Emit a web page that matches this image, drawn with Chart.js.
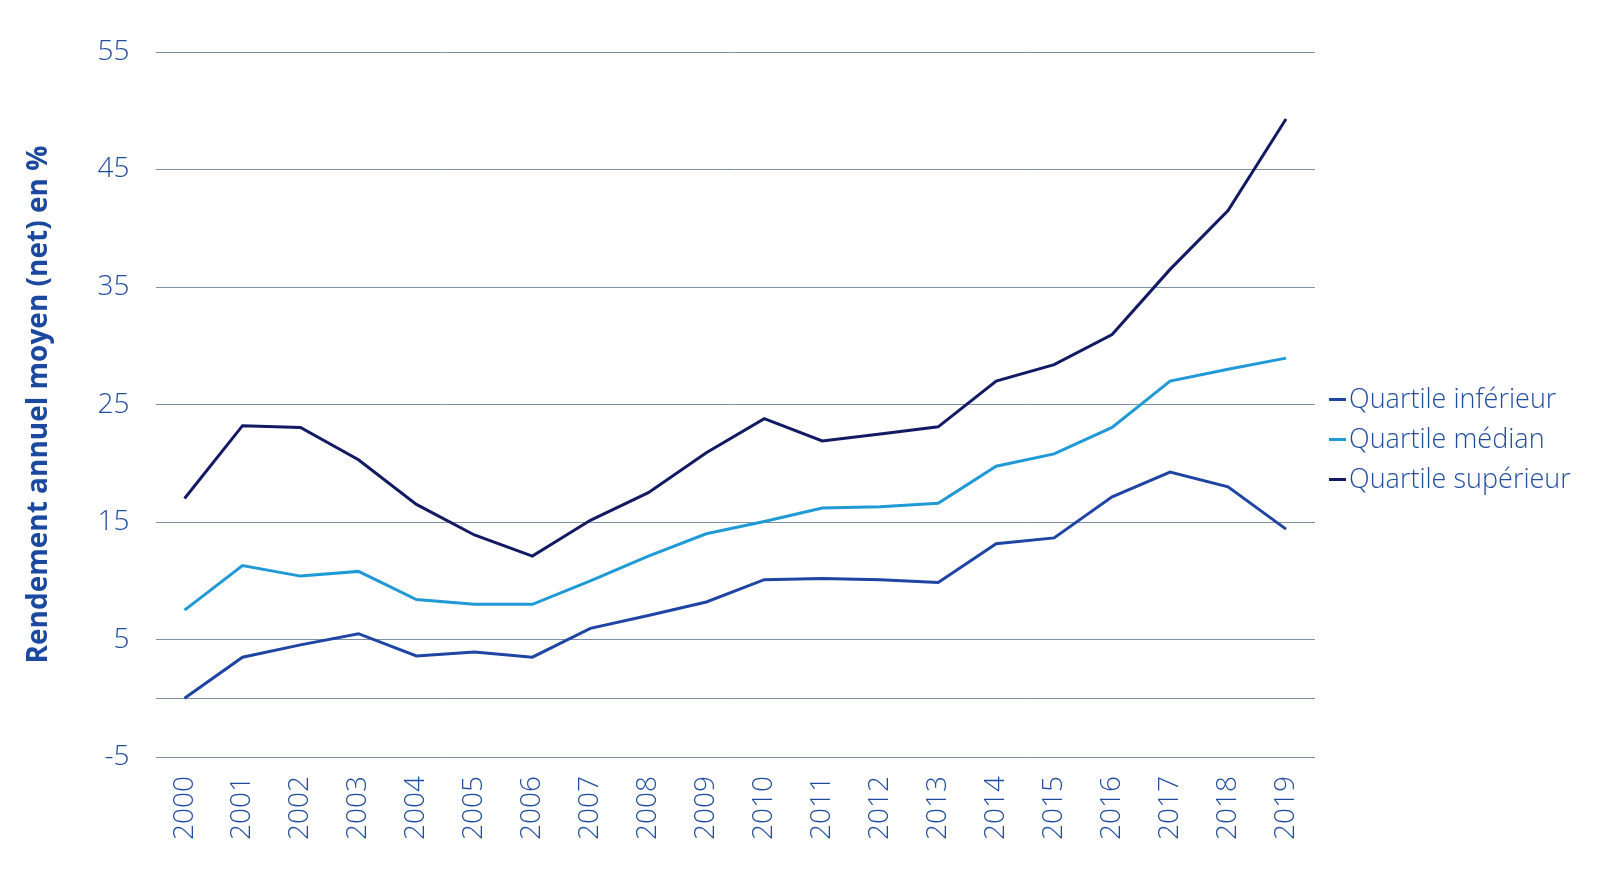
<!DOCTYPE html>
<html lang="fr">
<head>
  <meta charset="UTF-8">
  <title>Rendement annuel moyen par quartile</title>
  <script src="https://cdn.jsdelivr.net/npm/chart.js"></script>
  <style>
    html, body { margin: 0; padding: 0; background: #fff; }
    #wrap { position: relative; width: 1600px; height: 879px; }
    #legende {
      position: absolute; left: 1329px; top: 378px; white-space: nowrap;
      font-family: "Open Sans", sans-serif; font-weight: 300;
      font-size: 27px; color: #1f4d9e; line-height: 40px;
    }
    #legende span.trait {
      display: inline-block; width: 17px; height: 3px;
      vertical-align: middle; margin-right: 3px; position: relative; top: -1px;
    }
  </style>
</head>
<body>
  <div id="wrap">
    <canvas id="grafica" width="1600" height="879"></canvas>
    <div id="legende"></div>
  </div>

  <script>
    const annees = ['2000', '2001', '2002', '2003', '2004', '2005', '2006', '2007', '2008', '2009',
                    '2010', '2011', '2012', '2013', '2014', '2015', '2016', '2017', '2018', '2019'];
    const inferieur = [0, 3.5, 4.55, 5.5, 3.6, 3.95, 3.5, 5.95, 7.05, 8.2,
                       10.1, 10.2, 10.1, 9.85, 13.15, 13.65, 17.15, 19.25, 18.0, 14.4];
    const median = [7.5, 11.3, 10.4, 10.8, 8.4, 8.0, 8.0, 10.0, 12.1, 14.0,
                    15.05, 16.2, 16.3, 16.6, 19.75, 20.8, 23.05, 27.0, 28.0, 28.95];
    const superieur = [17.0, 23.2, 23.05, 20.3, 16.5, 13.9, 12.1, 15.15, 17.5, 20.9,
                       23.8, 21.9, 22.5, 23.1, 27.0, 28.4, 30.95, 36.5, 41.5, 49.3];
    const graduations = [-5, 0, 5, 15, 25, 35, 45, 55];

    const series = [
      { label: 'Quartile inférieur', data: inferieur, color: '#1e45a3' },
      { label: 'Quartile médian', data: median, color: '#1f9ad6' },
      { label: 'Quartile supérieur', data: superieur, color: '#111a63' }
    ];

    const police = '"Open Sans", sans-serif';
    const bleuTexte = '#1f4d9e';

    const ctx = document.getElementById('grafica').getContext('2d');
    const grafica = new Chart(ctx, {
      type: 'line',
      data: {
        labels: annees,
        datasets: series.map(s => ({
          label: s.label,
          data: s.data,
          borderColor: s.color,
          backgroundColor: s.color,
          borderWidth: 3,
          pointRadius: 0,
          tension: 0
        }))
      },
      options: {
        responsive: false,
        animation: false,
        layout: { padding: { left: 22, right: 285, top: 52, bottom: 28 } },
        plugins: {
          legend: { display: false },
          tooltip: { enabled: false }
        },
        scales: {
          x: {
            offset: true,
            grid: { display: false },
            border: { display: false },
            ticks: {
              color: bleuTexte,
              font: { family: police, size: 28, weight: 300 },
              minRotation: 90,
              maxRotation: 90,
              padding: 11
            }
          },
          y: {
            min: -5,
            max: 55,
            afterBuildTicks: axis => {
              axis.ticks = graduations.map(v => ({ value: v }));
            },
            grid: { color: '#7d90a6', lineWidth: 1, drawTicks: false },
            border: { display: false },
            ticks: {
              color: bleuTexte,
              font: { family: police, size: 28, weight: 300 },
              padding: 26,
              callback: v => (v === 0 ? '' : v)
            },
            title: {
              display: true,
              text: 'Rendement annuel moyen (net) en %',
              color: '#1c49a0',
              font: { family: police, size: 28, weight: 'bold' },
              padding: { top: 0, bottom: 16 }
            }
          }
        }
      }
    });

    const legende = document.getElementById('legende');
    series.forEach(s => {
      const ligne = document.createElement('div');
      ligne.innerHTML = '<span class="trait" style="background:' + s.color + '"></span>' + s.label;
      legende.appendChild(ligne);
    });
  </script>
</body>
</html>
